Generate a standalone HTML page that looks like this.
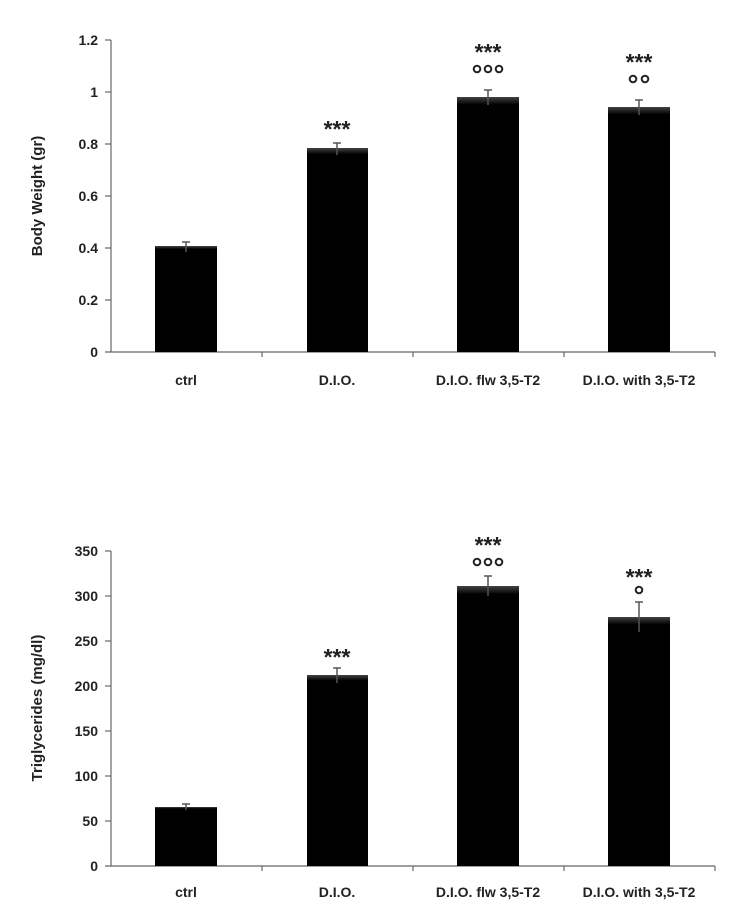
<!DOCTYPE html>
<html><head><style>body{margin:0;background:#fff}svg{display:block}text{font-family:"Liberation Sans",Arial,sans-serif;font-weight:bold;fill:#222}</style></head>
<body>
<svg width="736" height="922" viewBox="0 0 736 922" xmlns="http://www.w3.org/2000/svg">
<defs><linearGradient id="g" x1="0" y1="0" x2="0" y2="1"><stop offset="0" stop-color="#444"/><stop offset="0.03" stop-color="#000"/><stop offset="1" stop-color="#000"/></linearGradient></defs>
<g stroke="#666" stroke-width="1.2" fill="none">
<line x1="111" y1="40" x2="111" y2="352"/><line x1="105" y1="352" x2="715" y2="352"/>
<line x1="105" y1="40" x2="111" y2="40"/><line x1="105" y1="92" x2="111" y2="92"/><line x1="105" y1="144" x2="111" y2="144"/><line x1="105" y1="196" x2="111" y2="196"/><line x1="105" y1="248" x2="111" y2="248"/><line x1="105" y1="300" x2="111" y2="300"/>
<line x1="262" y1="352" x2="262" y2="357"/><line x1="413" y1="352" x2="413" y2="357"/><line x1="564" y1="352" x2="564" y2="357"/><line x1="715" y1="352" x2="715" y2="357"/>
<line x1="111" y1="551" x2="111" y2="866"/><line x1="105" y1="866" x2="715" y2="866"/>
<line x1="105" y1="551" x2="111" y2="551"/><line x1="105" y1="596" x2="111" y2="596"/><line x1="105" y1="641" x2="111" y2="641"/><line x1="105" y1="686" x2="111" y2="686"/><line x1="105" y1="731" x2="111" y2="731"/><line x1="105" y1="776" x2="111" y2="776"/><line x1="105" y1="821" x2="111" y2="821"/>
<line x1="262" y1="866" x2="262" y2="871"/><line x1="413" y1="866" x2="413" y2="871"/><line x1="564" y1="866" x2="564" y2="871"/><line x1="715" y1="866" x2="715" y2="871"/>
</g>
<g fill="url(#g)">
<rect x="155" y="246" width="62" height="106"/><rect x="307" y="148" width="61" height="204"/><rect x="457" y="97" width="62" height="255"/><rect x="608" y="107" width="62" height="245"/>
<rect x="155" y="807" width="62" height="59"/><rect x="307" y="675" width="61" height="191"/><rect x="457" y="586" width="62" height="280"/><rect x="608" y="617" width="62" height="249"/>
</g>
<g stroke="#555" stroke-width="1.5">
<line x1="186" y1="242" x2="186" y2="252"/><line x1="182" y1="242" x2="190" y2="242"/>
<line x1="337" y1="143" x2="337" y2="155"/><line x1="333" y1="143" x2="341" y2="143"/>
<line x1="488" y1="90" x2="488" y2="105"/><line x1="484" y1="90" x2="492" y2="90"/>
<line x1="639" y1="100" x2="639" y2="115"/><line x1="635" y1="100" x2="643" y2="100"/>
<line x1="186" y1="804" x2="186" y2="810"/><line x1="182" y1="804" x2="190" y2="804"/>
<line x1="337" y1="668" x2="337" y2="683"/><line x1="333" y1="668" x2="341" y2="668"/>
<line x1="488" y1="576" x2="488" y2="596"/><line x1="484" y1="576" x2="492" y2="576"/>
<line x1="639" y1="602" x2="639" y2="632"/><line x1="635" y1="602" x2="643" y2="602"/>
</g>
<g font-size="14" text-anchor="end">
<text x="98" y="45">1.2</text><text x="98" y="97">1</text><text x="98" y="149">0.8</text><text x="98" y="201">0.6</text><text x="98" y="253">0.4</text><text x="98" y="305">0.2</text><text x="98" y="357">0</text>
<text x="98" y="556">350</text><text x="98" y="601">300</text><text x="98" y="646">250</text><text x="98" y="691">200</text><text x="98" y="736">150</text><text x="98" y="781">100</text><text x="98" y="826">50</text><text x="98" y="871">0</text>
</g>
<g font-size="14" text-anchor="middle">
<text x="186" y="385">ctrl</text><text x="337" y="385">D.I.O.</text><text x="488" y="385">D.I.O. flw 3,5-T2</text><text x="639" y="385">D.I.O. with 3,5-T2</text>
<text x="186" y="897">ctrl</text><text x="337" y="897">D.I.O.</text><text x="488" y="897">D.I.O. flw 3,5-T2</text><text x="639" y="897">D.I.O. with 3,5-T2</text>
</g>
<text font-size="15" text-anchor="middle" transform="translate(42,196) rotate(-90)">Body Weight (gr)</text>
<text font-size="15" text-anchor="middle" transform="translate(42,708) rotate(-90)">Triglycerides (mg/dl)</text>
<g font-size="23" text-anchor="middle">
<text x="337" y="137">***</text><text x="488" y="60">***</text><text x="639" y="70">***</text>
<text x="337" y="665">***</text><text x="488" y="553">***</text><text x="639" y="585">***</text>
</g>
<g fill="none" stroke="#222" stroke-width="2">
<circle cx="477" cy="69" r="3.3"/><circle cx="488" cy="69" r="3.3"/><circle cx="499" cy="69" r="3.3"/>
<circle cx="633" cy="79" r="3.3"/><circle cx="645" cy="79" r="3.3"/>
<circle cx="477" cy="562" r="3.3"/><circle cx="488" cy="562" r="3.3"/><circle cx="499" cy="562" r="3.3"/>
<circle cx="639" cy="590" r="3.3"/>
</g>
</svg>
</body></html>
